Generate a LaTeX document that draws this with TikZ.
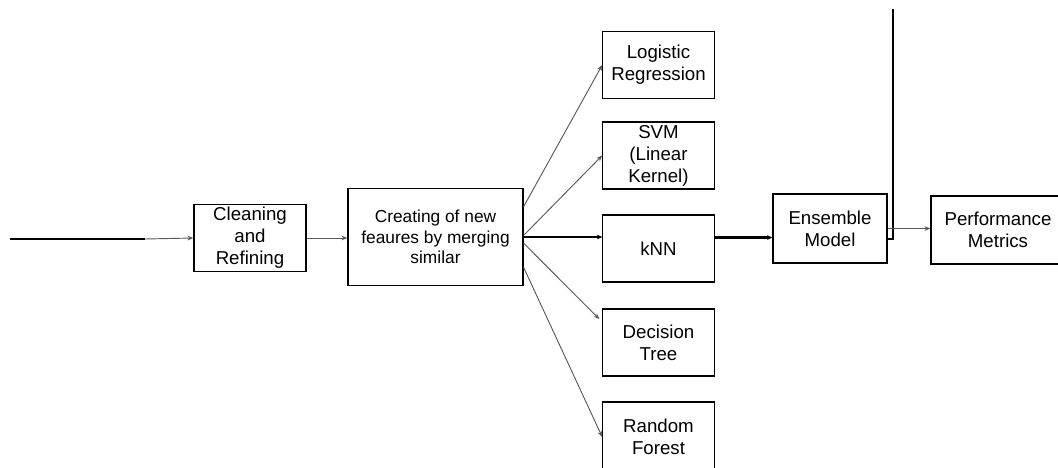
\documentclass[tikz,border=0pt]{standalone}
\usepackage{fontspec}
\setmainfont{Liberation Sans}
\usetikzlibrary{arrows.meta}
\begin{document}
\begin{tikzpicture}[x=0.75pt,y=-0.75pt,
    box/.style={draw,line width=0.9pt,align=center,inner sep=0pt,
        minimum width=83.5pt,minimum height=50.25pt,
        font=\fontsize{14}{16.5}\selectfont},
    arr/.style={draw=black!65,line width=0.7pt,-{Stealth[length=4.5pt,width=3.5pt]}},
    thickline/.style={line width=1.6pt}]
    \useasboundingbox (0,0) rectangle (1058,468);

    % Vorverarbeitung
    \coordinate (src) at (10,239);
    \coordinate (mid) at (145,239);
    \node[box,minimum width=84pt] (clean) at (250,238) {Cleaning\\and\\Refining};
    \node[box,minimum width=131.25pt,minimum height=72.75pt,
          font=\fontsize{13}{15.4}\selectfont] (create) at (435.5,237)
          {Creating of new\\feaures by merging\\similar};
    \draw[thickline] (src) -- (mid);
    \draw[arr] (mid) -- (clean.west);
    \draw[arr] (clean.east) -- (clean.east -| create.west);

    % Modelle
    \node[box] (logit) at (658.5,65) {Logistic\\Regression};
    \node[box] (svm) at (658.5,155.5) {SVM\\(Linear\\Kernel)};
    \node[box] (knn) at (658.5,248.5) {kNN};
    \node[box] (tree) at (658.5,342.5) {Decision\\Tree};
    \node[box,minimum height=52.5pt] (forest) at (658.5,437) {Random\\Forest};
    \draw[arr] (create.19) -- (logit.west);
    \draw[arr] (create.1) -- (svm.west);
    \draw[thickline,-{Stealth[length=4pt,width=3.5pt]}] (create.east) -- (create.east -| knn.west);
    \draw[arr,shorten >=3pt] (create.-4) -- (tree.160);
    \draw[arr] (create.-19) -- (forest.west);

    % Ensemble und Bewertung
    \node[box,minimum width=85.5pt,minimum height=51.75pt] (ens) at (830,228.5) {Ensemble\\Model};
    \node[box,minimum width=100.5pt,minimum height=51pt] (perf) at (998,230) {Performance\\Metrics};
    \coordinate (top) at (893,9);
    \draw[thickline,-{Stealth[length=4pt,width=3.5pt]}] (knn.11) -- (knn.11 -| ens.west);
    \draw[thickline] (top) |- (ens.-10);
    \draw[arr] (ens.east) -- (ens.east -| perf.west);
\end{tikzpicture}
\end{document}
